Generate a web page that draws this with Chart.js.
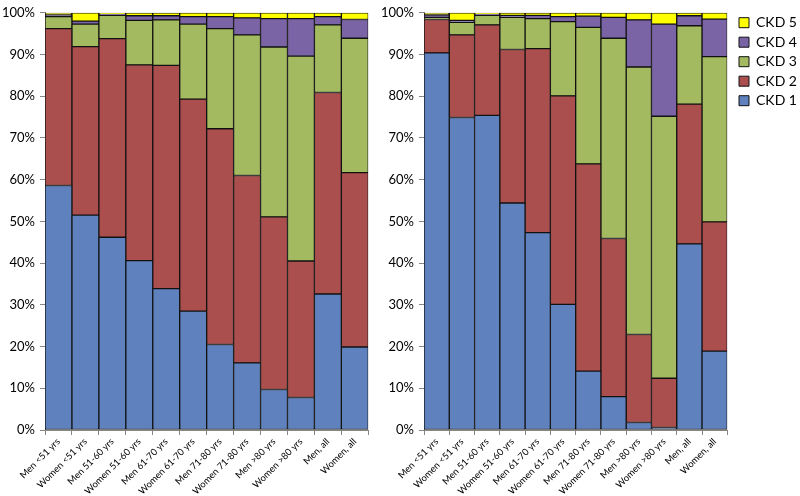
<!DOCTYPE html>
<html>
<head>
<meta charset="utf-8">
<script src="https://cdn.jsdelivr.net/npm/chart.js@4.4.1/dist/chart.umd.min.js"></script>
<style>
  html, body { margin: 0; padding: 0; background: #fff; }
  body { width: 800px; height: 496px; position: relative; overflow: hidden; }
  #leftWrap { position: absolute; left: 0; top: 0; width: 372px; height: 496px; }
  #rightWrap { position: absolute; left: 378px; top: 0; width: 422px; height: 496px; }
</style>
</head>
<body>
<div id="leftWrap"><canvas id="leftChart" width="372" height="496"></canvas></div>
<div id="rightWrap"><canvas id="rightChart" width="422" height="496"></canvas></div>
<script>
// ---- Data ----
const categories = ['Men <51 yrs', 'Women <51 yrs', 'Men 51-60 yrs', 'Women 51-60 yrs', 'Men 61-70 yrs', 'Women 61-70 yrs', 'Men 71-80 yrs', 'Women 71-80 yrs', 'Men >80 yrs', 'Women >80 yrs', 'Men, all', 'Women, all'];
const seriesNames = ['CKD 1', 'CKD 2', 'CKD 3', 'CKD 4', 'CKD 5'];

// Left panel (percent of each group)
const leftCKD1 = [58.6, 51.5, 46.2, 40.6, 33.9, 28.5, 20.5, 16.1, 9.7, 7.8, 32.6, 19.9];
const leftCKD2 = [37.6, 40.4, 47.6, 46.9, 53.5, 50.8, 51.7, 44.9, 41.4, 32.7, 48.3, 41.8];
const leftCKD3 = [2.9, 5.4, 5.6, 10.7, 10.9, 18.0, 24.0, 33.7, 40.7, 49.1, 16.2, 32.2];
const leftCKD4 = [0.4, 0.7, 0.3, 1.1, 1.0, 1.8, 2.9, 4.1, 6.8, 9.0, 2.0, 4.5];
const leftCKD5 = [0.5, 2.0, 0.3, 0.7, 0.7, 0.9, 0.9, 1.2, 1.4, 1.4, 0.9, 1.6];

// Right panel
const rightCKD1 = [90.4, 74.9, 75.4, 54.4, 47.3, 30.1, 14.1, 8.0, 1.8, 0.6, 44.6, 18.9];
const rightCKD2 = [8.0, 19.8, 21.7, 36.8, 44.1, 50.0, 49.7, 37.9, 21.1, 11.8, 33.5, 31.0];
const rightCKD3 = [0.5, 3.0, 2.3, 7.7, 7.2, 17.8, 32.7, 48.0, 64.1, 62.8, 18.8, 39.6];
const rightCKD4 = [0.6, 0.5, 0.3, 0.5, 0.8, 1.2, 2.7, 5.0, 11.3, 22.1, 2.4, 9.0];
const rightCKD5 = [0.5, 1.8, 0.3, 0.6, 0.6, 0.9, 0.8, 1.1, 1.7, 2.7, 0.7, 1.5];

const yTickValues = [0, 10, 20, 30, 40, 50, 60, 70, 80, 90, 100];

// ---- Styles ----
const colors = ['#5F82BF', '#AA4F4D', '#A3BA60', '#7B64A6', '#FFFF00'];
const FONT = 'Lato, "Open Sans", "Liberation Sans", sans-serif';
const axisColor = '#868686';

function makeDatasets(arrs) {
  return arrs.map((data, i) => ({
    label: seriesNames[i],
    data: data,
    backgroundColor: colors[i],
    borderColor: '#111',
    borderWidth: 1,
    borderSkipped: false,
    categoryPercentage: 1.0,
    barPercentage: 1.0
  }));
}

function makeOptions(yWidth, showLegend, padRight) {
  return {
    responsive: false,
    animation: false,
    devicePixelRatio: 1,
    layout: { padding: { top: 6, right: padRight, left: 0, bottom: 0 } },
    plugins: {
      legend: {
        display: showLegend,
        position: 'right',
        align: 'start',
        reverse: true,
        maxWidth: 72.7,
        labels: {
          boxWidth: 10,
          boxHeight: 10,
          padding: 5.5,
          color: '#000',
          font: { family: FONT, size: 14 }
        }
      },
      tooltip: { enabled: false }
    },
    scales: {
      x: {
        stacked: true,
        offset: true,
        grid: {
          offset: true,
          drawOnChartArea: false,
          drawTicks: true,
          tickLength: 5,
          color: axisColor
        },
        border: { color: axisColor, width: 1 },
        ticks: {
          autoSkip: false,
          maxRotation: 45,
          minRotation: 45,
          padding: 1,
          color: '#000',
          font: { family: FONT, size: 9.4 }
        },
        afterFit: (s) => { s.height = 66; }
      },
      y: {
        stacked: true,
        min: 0,
        max: 100,
        afterBuildTicks: (s) => { s.ticks = yTickValues.map(v => ({ value: v })); },
        grid: {
          drawOnChartArea: false,
          drawTicks: true,
          tickLength: 5,
          color: axisColor
        },
        border: { color: axisColor, width: 1 },
        ticks: {
          padding: 5,
          color: '#000',
          font: { family: FONT, size: 13 },
          callback: (v) => v + '%'
        },
        afterFit: (s) => { s.width = yWidth; }
      }
    }
  };
}

const shiftLegend = {
  id: 'shiftLegend',
  afterLayout(chart) {
    const lg = chart.legend;
    if (lg && lg.options.display) {
      lg.left += 6.2; lg.right += 6.2;
      lg.top += 4.2; lg.bottom += 4.2;
    }
  }
};

new Chart(document.getElementById('leftChart'), {
  type: 'bar',
  data: { labels: categories, datasets: makeDatasets([leftCKD1, leftCKD2, leftCKD3, leftCKD4, leftCKD5]) },
  options: makeOptions(45, false, 3.7)
});

new Chart(document.getElementById('rightChart'), {
  type: 'bar',
  data: { labels: categories, datasets: makeDatasets([rightCKD1, rightCKD2, rightCKD3, rightCKD4, rightCKD5]) },
  options: makeOptions(46, true, 0),
  plugins: [shiftLegend]
});
</script>
</body>
</html>
